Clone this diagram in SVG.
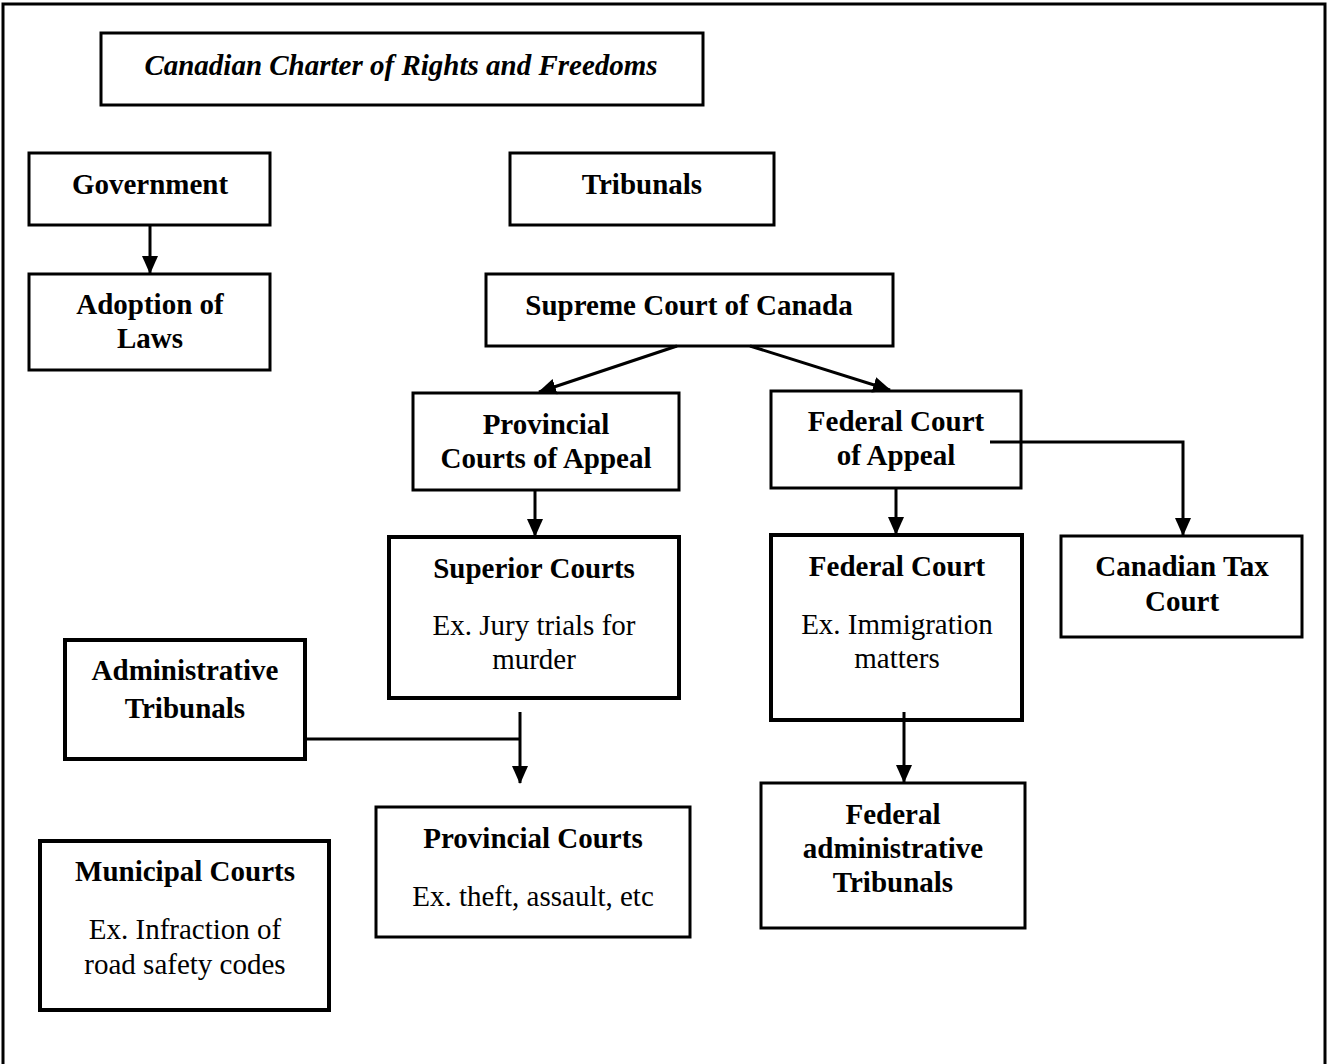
<svg xmlns="http://www.w3.org/2000/svg" width="1328" height="1064" viewBox="0 0 1328 1064">
<style>
rect.box{fill:#fff;stroke:#000;stroke-width:3}
rect.thick{stroke-width:4}
text{font-family:"Liberation Serif","Times New Roman",serif;font-size:29px;fill:#000;text-anchor:middle}
.b{font-weight:bold}
.i{font-style:italic;font-weight:bold;font-size:29px}
.c{fill:none;stroke:#000;stroke-width:3}
</style>
<defs>
<marker id="ah" markerUnits="userSpaceOnUse" markerWidth="18" markerHeight="18" viewBox="0 0 18 18" refX="17" refY="9" orient="auto">
<path d="M0,1 L18,9 L0,17 Z" fill="#000"/>
</marker>
</defs>
<rect width="1328" height="1064" fill="#fff"/>
<path d="M3,1064 V4 H1325 V1064" fill="none" stroke="#000" stroke-width="3"/>

<g id="charter"><rect class="box" x="101" y="33" width="602" height="72"/><text class="i" x="401" y="75">Canadian Charter of Rights and Freedoms</text></g>
<g id="government"><rect class="box" x="29" y="153" width="241" height="72"/><text class="b" x="150" y="194">Government</text></g>
<g id="adoption"><rect class="box" x="29" y="274" width="241" height="96"/><text class="b" x="150" y="314">Adoption of</text><text class="b" x="150" y="348">Laws</text></g>
<g id="tribunals"><rect class="box" x="510" y="153" width="264" height="72"/><text class="b" x="642" y="194">Tribunals</text></g>
<g id="supreme"><rect class="box" x="486" y="274" width="407" height="72"/><text class="b" x="689" y="315">Supreme Court of Canada</text></g>
<g id="prov-appeal"><rect class="box" x="413" y="393" width="266" height="97"/><text class="b" x="546" y="434">Provincial</text><text class="b" x="546" y="468">Courts of Appeal</text></g>
<g id="fed-appeal"><rect class="box" x="771" y="391" width="250" height="97"/><text class="b" x="896" y="431">Federal Court</text><text class="b" x="896" y="465">of Appeal</text></g>
<g id="superior"><rect class="box thick" x="389" y="537" width="290" height="161"/><text class="b" x="534" y="578">Superior Courts</text><text x="534" y="635">Ex. Jury trials for</text><text x="534" y="669">murder</text></g>
<g id="federal-court"><rect class="box thick" x="771" y="535" width="251" height="185"/><text class="b" x="897" y="576">Federal Court</text><text x="897" y="634">Ex. Immigration</text><text x="897" y="668">matters</text></g>
<g id="tax-court"><rect class="box" x="1061" y="536" width="241" height="101"/><text class="b" x="1182" y="576">Canadian Tax</text><text class="b" x="1182" y="611">Court</text></g>
<g id="admin-tribunals"><rect class="box thick" x="65" y="640" width="240" height="119"/><text class="b" x="185" y="680">Administrative</text><text class="b" x="185" y="718">Tribunals</text></g>
<g id="prov-courts"><rect class="box" x="376" y="807" width="314" height="130"/><text class="b" x="533" y="848">Provincial Courts</text><text x="533" y="906">Ex. theft, assault, etc</text></g>
<g id="municipal"><rect class="box thick" x="40" y="841" width="289" height="169"/><text class="b" x="185" y="881">Municipal Courts</text><text x="185" y="939">Ex. Infraction of</text><text x="185" y="974">road safety codes</text></g>
<g id="fed-admin"><rect class="box" x="761" y="783" width="264" height="145"/><text class="b" x="893" y="824">Federal</text><text class="b" x="893" y="858">administrative</text><text class="b" x="893" y="892">Tribunals</text></g>

<g id="connectors">
<line class="c" x1="150" y1="225" x2="150" y2="273" marker-end="url(#ah)"/>
<line class="c" x1="677" y1="346" x2="539" y2="392" marker-end="url(#ah)"/>
<line class="c" x1="750" y1="346" x2="890" y2="390" marker-end="url(#ah)"/>
<line class="c" x1="535" y1="490" x2="535" y2="536" marker-end="url(#ah)"/>
<line class="c" x1="896" y1="488" x2="896" y2="534" marker-end="url(#ah)"/>
<polyline class="c" points="990,442 1183,442 1183,535" marker-end="url(#ah)"/>
<polyline class="c" points="305,739 520,739"/>
<line class="c" x1="520" y1="712" x2="520" y2="783" marker-end="url(#ah)"/>
<line class="c" x1="904" y1="712" x2="904" y2="782" marker-end="url(#ah)"/>
</g>
</svg>
